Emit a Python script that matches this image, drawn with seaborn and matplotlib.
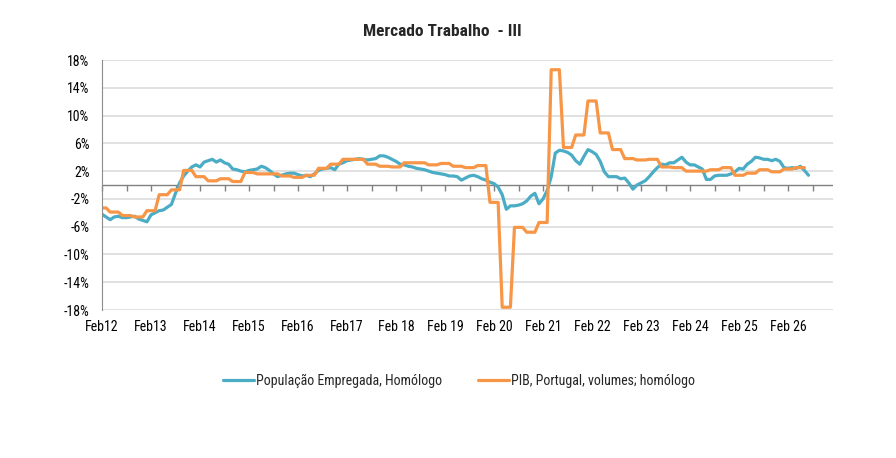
import numpy as np
import pandas as pd
import matplotlib
matplotlib.use("Agg")
import matplotlib.pyplot as plt
from matplotlib import font_manager
import seaborn as sns

# monthly, Feb 2012 onwards (i = 0 is Feb12)
emprego = [
    -4.2, -4.6, -5.0, -4.6, -4.5, -4.7, -4.7, -4.6, -4.5, -4.9, -5.1, -5.3,
    -4.3, -4.0, -3.7, -3.6, -3.2, -2.8, -1.2, 0.3, 1.3, 2.0, 2.6, 2.9,
    2.6, 3.3, 3.5, 3.7, 3.3, 3.6, 3.2, 3.0, 2.3, 2.2, 2.0, 1.9,
    2.1, 2.2, 2.3, 2.7, 2.5, 2.1, 1.6, 1.2, 1.4, 1.6, 1.7, 1.7,
    1.5, 1.3, 1.4, 1.2, 1.6, 2.1, 2.3, 2.4, 2.5, 2.2, 3.0, 3.2,
    3.5, 3.6, 3.7, 3.8, 3.7, 3.6, 3.7, 3.8, 4.2, 4.2, 4.0, 3.7,
    3.4, 3.0, 2.9, 2.7, 2.6, 2.4, 2.3, 2.2, 2.0, 1.8, 1.7, 1.6,
    1.5, 1.3, 1.3, 1.2, 0.7, 1.0, 1.3, 1.4, 1.2, 0.9, 0.7, 0.4,
    0.2, -0.3, -1.4, -3.5, -3.0, -3.0, -2.9, -2.7, -2.3, -1.6, -1.2, -2.7,
    -2.0, -0.8, 1.2, 4.6, 5.0, 4.9, 4.7, 4.3, 3.5, 3.0, 4.1, 5.1,
    4.8, 4.4, 3.4, 1.9, 1.2, 1.2, 1.2, 0.9, 1.0, 0.3, -0.6, 0.0,
    0.3, 0.6, 1.2, 1.9, 2.5, 3.0, 2.9, 3.2, 3.2, 3.6, 4.0, 3.3,
    2.9, 2.9, 2.6, 2.3, 0.8, 0.8, 1.3, 1.4, 1.4, 1.4, 1.6, 1.9,
    2.4, 2.3, 3.0, 3.4, 4.0, 3.9, 3.7, 3.7, 3.5, 3.7, 3.4, 2.5,
    2.4, 2.5, 2.4, 2.7, 2.1, 1.4,
]

# quarterly GDP yoy, Q1 2012 .. Q2 2026
pib_trim = [
    -3.3, -3.9, -4.4, -4.6,
    -3.7, -1.4, -0.7, 2.1,
    1.2, 0.6, 0.9, 0.5,
    1.8, 1.6, 1.6, 1.3,
    1.1, 1.4, 2.4, 3.0,
    3.7, 3.7, 3.0, 2.7,
    2.6, 3.2, 3.2, 2.9,
    3.1, 2.7, 2.5, 2.8,
    -2.5, -17.6, -6.1, -6.8,
    -5.4, 16.6, 5.4, 7.2,
    12.1, 7.5, 5.1, 3.8,
    3.6, 3.7, 2.6, 2.5,
    2.0, 2.0, 2.2, 2.5,
    1.4, 1.7, 2.2, 1.9,
    2.3, 2.5,
]

x_labels = ["Feb12", "Feb13", "Feb14", "Feb15", "Feb16", "Feb17", "Feb 18",
            "Feb 19", "Feb 20", "Feb 21", "Feb 22", "Feb 23", "Feb 24",
            "Feb 25", "Feb 26"]
y_ticks = [-18, -14, -10, -6, -2, 2, 6, 10, 14, 18]

# quarterly value repeated over its months (series starts in Feb, so Q1 2012 has 2 months)
pib = np.repeat(pib_trim, [2] + [3] * (len(pib_trim) - 1))

df_emp = pd.DataFrame({"mes": np.arange(len(emprego)), "valor": emprego})
df_pib = pd.DataFrame({"mes": np.arange(len(pib)), "valor": pib})

sns.set_style("white")

# narrow font if one is there, otherwise Liberation Sans a bit smaller
installed = {f.name for f in font_manager.fontManager.ttflist}
narrow = None
for name in ["Liberation Sans Narrow", "Arial Narrow", "Roboto Condensed", "Open Sans Condensed"]:
    if name in installed:
        narrow = name
        break
if narrow:
    plt.rcParams["font.family"] = [narrow, "Liberation Sans", "DejaVu Sans"]
    tick_size, leg_size, title_size = 10, 10, 12.5
else:
    plt.rcParams["font.family"] = ["Liberation Sans", "DejaVu Sans"]
    tick_size, leg_size, title_size = 9.5, 9, 11.5

blue = "#4BACC6"
orange = "#F79646"

fig = plt.figure(figsize=(8.96, 4.58), dpi=100)
ax = fig.add_axes([102 / 896, 1 - 310 / 458, 731 / 896, 250 / 458])

ax.axhline(0, color="#808080", linewidth=1.0, zorder=1.5)
sns.lineplot(data=df_emp, x="mes", y="valor", ax=ax, color=blue, linewidth=2.3,
             label="População Empregada, Homólogo")
sns.lineplot(data=df_pib, x="mes", y="valor", ax=ax, color=orange, linewidth=2.3,
             label="PIB, Portugal, volumes; homólogo")

ax.set_xlim(0, 179)
ax.set_ylim(-18, 18)
ax.set_yticks(y_ticks)
ax.set_yticklabels([f"{v}%" for v in y_ticks])
ax.set_xticks(np.arange(0, 12 * len(x_labels), 12))
ax.set_xticklabels(x_labels)
ax.set_xlabel("")
ax.set_ylabel("")

ax.grid(axis="y", color="#D9D9D9", linewidth=1.1)
ax.set_axisbelow(True)
for s in ["top", "right", "bottom"]:
    ax.spines[s].set_visible(False)
ax.spines["left"].set_color("#8C8C8C")
ax.tick_params(axis="x", length=0, pad=7, labelsize=tick_size, colors="black")
ax.tick_params(axis="y", length=4, pad=5, labelsize=tick_size, color="#8C8C8C",
               labelcolor="black")

# half-year tick marks on the zero line
zero = ax.secondary_xaxis(0.5)
zero.set_xticks(np.arange(0, 175, 6))
zero.set_xticklabels([])
zero.xaxis.set_ticks_position("bottom")
zero.tick_params(axis="x", which="both", bottom=True, top=False, labelbottom=False,
                 labeltop=False, direction="out", length=4, width=1, color="#808080")
for s in zero.spines.values():
    s.set_visible(False)

ax.get_legend().remove()
fig.legend(loc="center", bbox_to_anchor=(459 / 896, 1 - 381 / 458), ncol=2,
           frameon=False, fontsize=leg_size, handlelength=2.2, handletextpad=0.15,
           columnspacing=2.6)

fig.text(442 / 896, 1 - 31 / 458, "Mercado Trabalho  - III", ha="center",
         va="center", fontsize=title_size, fontweight="bold")

fig.savefig("out.png", dpi=100)
